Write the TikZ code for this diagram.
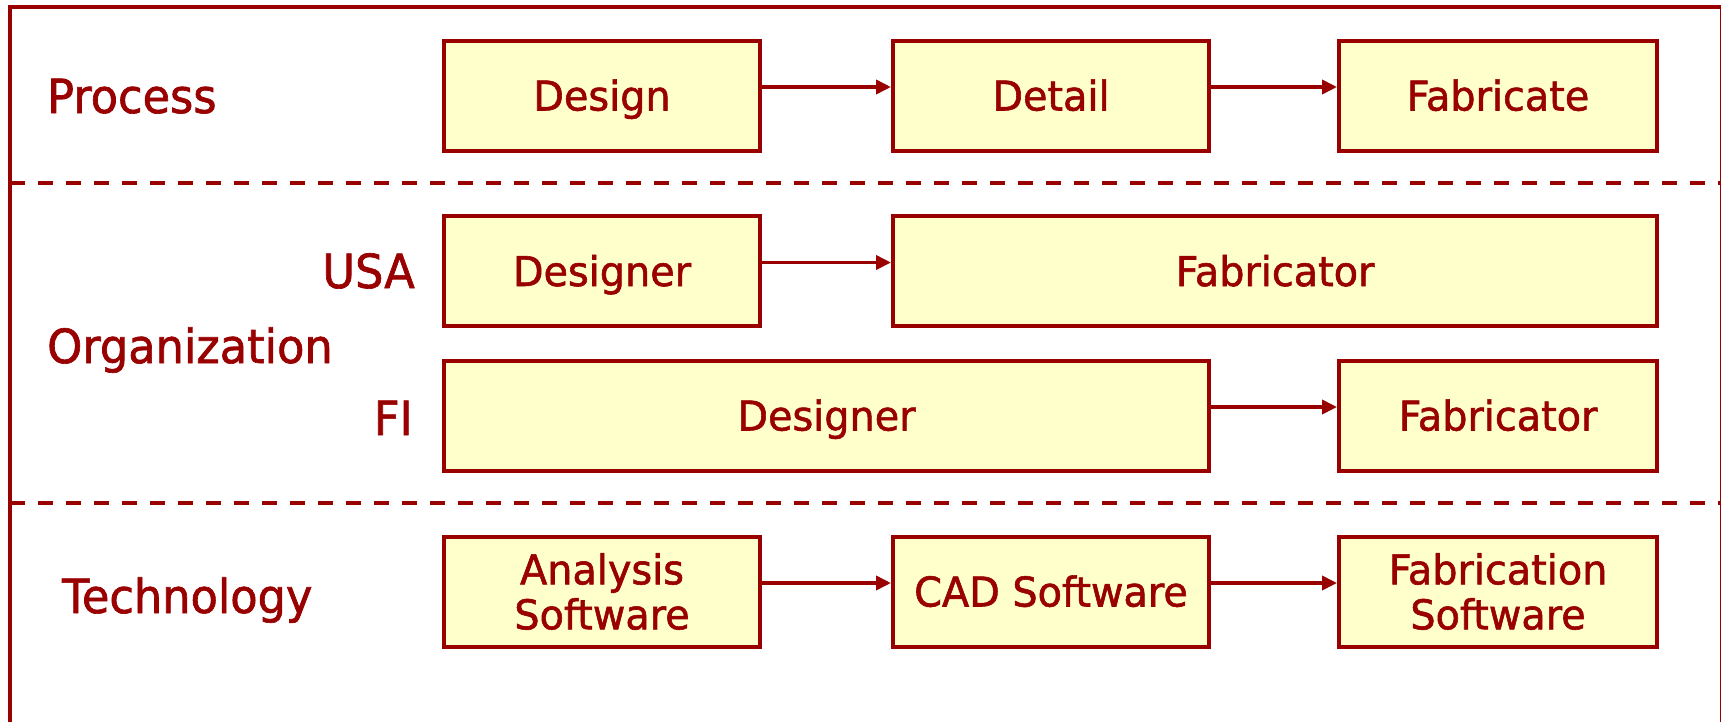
\documentclass[tikz,border=0pt]{standalone}
\usepackage{fontspec}
\setmainfont[FakeStretch=0.97,FakeBold=1.4]{DejaVu Sans}
\newfontfamily\rowfont[FakeStretch=0.95,FakeBold=1.4]{DejaVu Sans}
\usetikzlibrary{arrows.meta}
\definecolor{maroon}{HTML}{990000}
\definecolor{paleyellow}{HTML}{FFFFCC}
\tikzset{
  stagebox/.style={draw=maroon, fill=paleyellow, line width=4pt, rectangle,
    inner sep=0pt, text=maroon, font=\fontsize{41}{45}\selectfont,
    minimum height=110pt, align=center},
  oneline/.style={text height=30pt, text depth=0pt},
  rowlabel/.style={text=maroon, inner sep=0pt, font=\rowfont\fontsize{47}{52}\selectfont},
  flow/.style={draw=maroon, line width=3.6pt, -{Triangle[length=15pt,width=14pt]}},
  divider/.style={draw=maroon, line width=4pt, dash pattern=on 15pt off 13pt},
}
\begin{document}
\begin{tikzpicture}[x=1pt, y=-1pt]
\useasboundingbox (0,0) rectangle (1721,721);
\begin{scope}
\clip (0,0) rectangle (1721,721);
% outer frame, running past the lower and right edges
\draw[maroon, line width=4pt] (10,7) rectangle (1722,760);
\end{scope}

% section dividers
\coordinate (d1a) at (10,183);
\coordinate (d1b) at (1721,183);
\coordinate (d2a) at (10,503);
\coordinate (d2b) at (1721,503);
\draw[divider] (d1a) -- (d1b);
\draw[divider] (d2a) -- (d2b);

% row labels
\node[rowlabel, anchor=base west] (lproc) at (47,113) {Process};
\node[rowlabel, anchor=base west] (lorg) at (47,363) {Organization};
\node[rowlabel, anchor=base west] (ltech) at (62,613) {Technology};
\node[rowlabel, anchor=base east] (lusa) at (415,288) {USA};
\node[rowlabel, anchor=base east] (lfi) at (413,435) {FI};

% process row
\node[stagebox, oneline, minimum width=316pt] (design) at (602,95.5) {Design};
\node[stagebox, oneline, minimum width=316pt] (detail) at (1051,95.5) {Detail};
\node[stagebox, oneline, minimum width=318pt] (fabricate) at (1498,95.5) {Fabricate};

% organization rows
\node[stagebox, oneline, minimum width=316pt] (usadesigner) at (602,271) {Designer};
\node[stagebox, oneline, minimum width=764pt] (usafab) at (1275,271) {Fabricator};
\node[stagebox, oneline, minimum width=765pt] (fidesigner) at (826.5,415.5) {Designer};
\node[stagebox, oneline, minimum width=318pt] (fifab) at (1498,415.5) {Fabricator};

% technology row
\node[stagebox, minimum width=316pt] (analysis) at (602,591.5) {Analysis\\Software};
\node[stagebox, oneline, minimum width=316pt] (cad) at (1051,591.5) {CAD Software};
\node[stagebox, minimum width=318pt] (fabsoft) at (1498,591.5) {Fabrication\\Software};

% hand-offs
\draw[flow] ([yshift=8.5pt]design.east) -- ([yshift=8.5pt]detail.west);
\draw[flow] ([yshift=8.5pt]detail.east) -- ([yshift=8.5pt]fabricate.west);
\draw[flow] ([yshift=8.5pt]usadesigner.east) -- ([yshift=8.5pt]usafab.west);
\draw[flow] ([yshift=8.5pt]fidesigner.east) -- ([yshift=8.5pt]fifab.west);
\draw[flow] ([yshift=8.5pt]analysis.east) -- ([yshift=8.5pt]cad.west);
\draw[flow] ([yshift=8.5pt]cad.east) -- ([yshift=8.5pt]fabsoft.west);
\end{tikzpicture}
\end{document}
